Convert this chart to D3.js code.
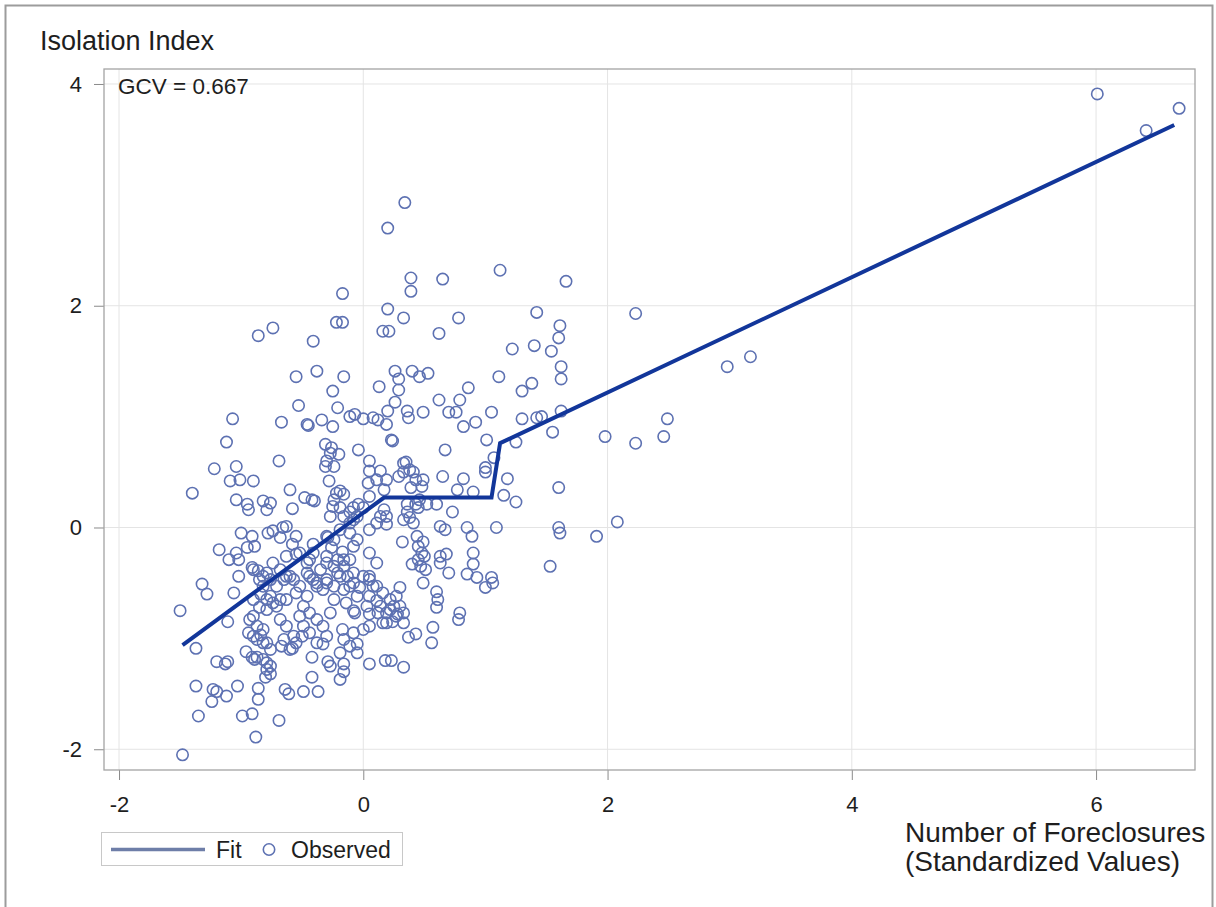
<!DOCTYPE html>
<html>
<head>
<meta charset="utf-8">
<script src="https://cdn.jsdelivr.net/npm/d3@7"></script>
<style>
  html, body { margin: 0; padding: 0; background: #fff; }
  svg { display: block; font-family: "Liberation Sans", Arial, Helvetica, sans-serif; }
</style>
</head>
<body>
<svg id="chart" width="1216" height="907"></svg>
<script>
// Axis tick values
const xTicks = [-2, 0, 2, 4, 6];
const yTicks = [-2, 0, 2, 4];

// Fitted piecewise-linear curve (standardized foreclosures -> isolation index)
const fitX = [-1.48, 0.17, 1.05, 1.12, 6.64];
const fitY = [-1.06, 0.27, 0.27, 0.76, 3.63];

const gcvValue = 0.667;

// Observed tracts: [standardized foreclosures, isolation index]
const observed = [
  [6.01, 3.91], [6.68, 3.78], [6.41, 3.58], [0.34, 2.93], [0.20, 2.70], [1.12, 2.32], [0.39, 2.25], [0.39, 2.13],
  [0.65, 2.24], [1.66, 2.22], [-0.17, 2.11], [0.20, 1.97], [2.23, 1.93], [1.42, 1.94], [1.61, 1.82], [1.60, 1.71],
  [-0.74, 1.80], [-0.86, 1.73], [-0.22, 1.85], [-0.17, 1.85], [0.33, 1.89], [0.78, 1.89], [0.16, 1.77], [0.21, 1.77],
  [0.62, 1.75], [-0.41, 1.68], [1.22, 1.61], [1.40, 1.64], [1.54, 1.59], [1.62, 1.45], [1.62, 1.34], [1.11, 1.36],
  [2.98, 1.45], [3.17, 1.54], [-0.55, 1.36], [-0.38, 1.41], [-0.16, 1.36], [-0.25, 1.23], [0.13, 1.27], [-0.53, 1.10],
  [-0.21, 1.08], [-1.07, 0.98], [-0.67, 0.95], [-0.45, 0.92], [-0.34, 0.97], [-0.11, 1.00], [-0.07, 1.02], [0.00, 0.98],
  [0.08, 0.99], [0.12, 0.97], [0.19, 0.93], [0.26, 1.41], [0.29, 1.34], [0.29, 1.24], [0.26, 1.13], [0.20, 1.05],
  [0.40, 1.41], [0.46, 1.36], [0.53, 1.39], [0.86, 1.26], [0.62, 1.15], [0.79, 1.15], [1.30, 1.23], [1.38, 1.30],
  [0.36, 1.05], [0.37, 0.99], [0.49, 1.04], [0.70, 1.04], [0.76, 1.04], [1.05, 1.04], [1.30, 0.98], [1.42, 0.99],
  [1.46, 1.00], [1.62, 1.05], [0.92, 0.95], [0.82, 0.91], [-0.46, 0.93], [-0.25, 0.91], [1.55, 0.86], [2.49, 0.98],
  [2.46, 0.82], [1.98, 0.82], [2.23, 0.76], [1.01, 0.79], [1.25, 0.77],
  [-1.12, 0.77], [-0.69, 0.60], [-1.22, 0.53], [-1.04, 0.55], [-1.09, 0.42], [-1.01, 0.43], [-0.90, 0.42], [-1.40, 0.31],
  [-0.60, 0.34], [-1.04, 0.25], [-0.95, 0.21], [-0.94, 0.16], [-0.82, 0.24], [-0.76, 0.22], [-0.79, 0.16], [-0.58, 0.17],
  [-0.48, 0.27], [-0.42, 0.25], [-0.40, 0.24], [-0.31, 0.75], [-0.26, 0.72], [-0.27, 0.67], [-0.20, 0.66], [-0.31, 0.55],
  [-0.24, 0.55], [-0.30, 0.60], [-0.28, 0.42], [-0.04, 0.70], [0.05, 0.60], [0.05, 0.51], [0.14, 0.51], [0.04, 0.40],
  [0.19, 0.43], [0.17, 0.34], [0.23, 0.79], [-0.19, 0.33], [-0.16, 0.30], [-0.24, 0.25], [-0.04, 0.21], [-0.08, 0.18],
  [0.00, 0.18], [-0.19, 0.18], [-0.27, 0.10], [-0.16, 0.10], [-0.08, 0.07], [0.05, -0.02], [0.17, 0.16], [0.19, 0.10],
  [0.14, 0.10], [0.11, 0.04], [0.19, 0.03], [-1.00, -0.05], [-0.91, -0.08], [-0.89, -0.17], [-0.95, -0.18], [-0.78, -0.05],
  [-0.74, -0.03], [-0.66, 0.00], [-0.63, 0.01], [-0.68, -0.09], [-1.18, -0.20], [-1.10, -0.29], [-1.04, -0.23], [-1.02, -0.44],
  [-1.06, -0.59], [-1.32, -0.51], [-1.28, -0.60], [-1.50, -0.75], [-0.90, -0.38], [-0.85, -0.47], [-0.79, -0.41], [-0.74, -0.32],
  [-0.58, -0.15], [-0.52, -0.23], [-0.46, -0.32], [-0.63, -0.26], [-0.55, -0.08], [-0.41, -0.15], [-0.30, -0.08], [-0.24, -0.11],
  [-0.19, -0.02], [-0.11, -0.05], [-0.05, -0.11], [-0.08, -0.17], [0.11, -0.32], [0.05, -0.44], [0.08, -0.53], [-0.03, -0.54],
  [-0.08, -0.50], [-0.30, -0.26], [-0.24, -0.35], [-0.16, -0.29], [-0.19, -0.44], [-0.30, -0.50], [-0.38, -0.53], [-0.63, -0.44],
  [-0.57, -0.47], [-0.52, -0.53], [-0.46, -0.41], [-0.41, -0.47], [-0.55, -0.59], [-0.46, -0.62], [-0.63, -0.65], [-0.71, -0.71],
  [-0.79, -0.65], [-0.85, -0.72], [-0.90, -0.80], [-0.24, -0.65], [-0.14, -0.68], [-0.27, -0.77], [-0.08, -0.75], [0.03, -0.71],
  [0.11, -0.66], [0.19, -0.77], [0.25, -0.71], [0.27, -0.62],
  [0.24, 0.78], [0.67, 0.70], [0.35, 0.59], [0.29, 0.46], [0.33, 0.50], [0.41, 0.50], [0.43, 0.43], [0.65, 0.46],
  [0.82, 0.44], [1.00, 0.54], [1.00, 0.50], [1.07, 0.63], [1.18, 0.44], [0.39, 0.36], [0.48, 0.37], [0.77, 0.34],
  [0.90, 0.32], [1.15, 0.29], [1.25, 0.23], [1.60, 0.36], [0.36, 0.21], [0.43, 0.21], [0.45, 0.18], [0.38, 0.09],
  [0.36, 0.14], [0.52, 0.21], [0.60, 0.21], [0.73, 0.14], [-0.11, 0.14], [0.63, 0.01], [0.67, -0.02], [0.85, 0.00],
  [0.89, -0.08], [1.09, 0.00], [1.60, 0.00], [1.61, -0.05], [1.91, -0.08], [2.08, 0.05], [-0.29, -0.09], [-0.17, -0.22],
  [-0.26, -0.18], [0.32, -0.13], [0.44, -0.08], [0.49, -0.13], [0.45, -0.17], [0.90, -0.23], [0.90, -0.33], [1.53, -0.35],
  [0.40, -0.33], [0.45, -0.29], [0.50, -0.26], [0.48, -0.23], [0.47, -0.35], [0.51, -0.38], [0.63, -0.26], [0.68, -0.24],
  [0.63, -0.32], [0.70, -0.41], [0.85, -0.42], [0.93, -0.45], [1.05, -0.45], [1.06, -0.50], [1.00, -0.54], [0.30, -0.54],
  [0.49, -0.50], [0.60, -0.58], [0.61, -0.65], [0.60, -0.72], [0.79, -0.77], [0.78, -0.83], [0.28, -0.78], [0.24, -0.85],
  [0.16, -0.86], [0.12, -0.77], [0.05, -0.78], [-0.07, -0.77], [-0.08, -0.95], [-0.05, -1.05], [-0.17, -0.92], [0.57, -0.90],
  [0.56, -1.04], [0.37, -0.99], [0.43, -0.96], [-0.33, -1.05], [-0.42, -1.17], [-0.29, -1.21], [-0.27, -1.25], [-0.16, -1.23],
  [-0.16, -1.30], [-0.19, -1.37], [0.05, -1.23], [0.18, -1.20], [0.23, -1.20], [0.33, -1.26], [-0.42, -1.35], [-0.49, -1.48],
  [-0.37, -1.48],
  [-1.37, -1.09], [-1.11, -0.85], [-1.20, -1.21], [-1.13, -1.23], [-1.11, -1.21], [-1.37, -1.43], [-1.23, -1.46], [-1.20, -1.48],
  [-1.24, -1.57], [-1.12, -1.52], [-1.03, -1.43], [-1.35, -1.70], [-0.99, -1.70], [-0.91, -1.68], [-0.86, -1.45], [-0.86, -1.55],
  [-0.88, -1.89], [-0.69, -1.74], [-0.64, -1.46], [-0.61, -1.50], [-1.48, -2.05], [-0.94, -0.95], [-0.87, -1.01], [-0.82, -1.04],
  [-0.87, -1.17], [-0.79, -1.22], [-0.79, -1.28], [-0.76, -1.32], [-0.91, -1.17], [-0.89, -1.19], [-0.67, -1.07], [-0.58, -1.09],
  [-0.50, -0.98], [-0.49, -0.89],
  [-1.02, -0.29], [-0.91, -0.36], [-0.86, -0.39], [-0.76, -0.47], [-0.82, -0.53], [-0.71, -0.53], [-0.65, -0.47], [-0.60, -0.44],
  [-0.68, -0.38], [-0.82, -0.44], [-0.90, -0.65], [-0.84, -0.60], [-0.79, -0.74], [-0.74, -0.68], [-0.68, -0.65], [-0.76, -0.62],
  [-0.93, -0.83], [-0.87, -0.89], [-0.82, -0.92], [-0.90, -0.98], [-0.84, -0.97], [-0.79, -1.04], [-0.76, -1.10], [-0.96, -1.12],
  [-0.82, -1.19], [-0.76, -1.25], [-0.80, -1.35], [-0.68, -0.83], [-0.63, -0.89], [-0.57, -0.98], [-0.65, -1.01], [-0.55, -1.04],
  [-0.60, -1.10], [-0.49, -0.71], [-0.44, -0.77], [-0.38, -0.83], [-0.52, -0.80], [-0.44, -0.95], [-0.33, -0.89], [-0.30, -0.98],
  [-0.38, -1.04], [-0.44, -0.44], [-0.38, -0.50], [-0.30, -0.47], [-0.33, -0.56], [-0.24, -0.53], [-0.21, -0.41], [-0.13, -0.44],
  [-0.08, -0.41], [-0.16, -0.56], [-0.11, -0.53], [-0.05, -0.62], [0.00, -0.44], [0.05, -0.47], [0.11, -0.53], [0.16, -0.59],
  [0.22, -0.65], [0.05, -0.62], [0.14, -0.71], [0.22, -0.74], [0.27, -0.80], [0.33, -0.77], [0.30, -0.71], [0.33, -0.86],
  [0.19, -0.86], [0.05, -0.23], [-0.16, -0.35], [-0.11, -0.29], [-0.21, -0.29], [-0.35, -0.38], [-0.30, -0.32], [-0.44, -0.29],
  [-0.41, -0.23], [-0.55, -0.24], [-0.22, 0.31], [-0.25, 0.19], [-0.11, 0.04], [-0.05, 0.10], [0.05, 0.28], [0.11, 0.43],
  [0.33, 0.58], [0.38, 0.52], [0.49, 0.43], [0.46, 0.25], [0.33, 0.07], [0.41, 0.04], [-0.16, -1.01], [-0.11, -1.07],
  [-0.05, -1.13], [-0.19, -1.13], [0.00, -0.92], [0.05, -0.89]
];

const svg = d3.select("#chart");
const W = 1216, H = 907;
const plot = { left: 104, right: 1195, top: 69, bottom: 770 };

const textColor = "#1e1e1e";
const markerColor = "#5d71b2";
const fitColor = "#12369a";
const baseFont = "'Liberation Sans', Arial, sans-serif";

svg.append("rect").attr("width", W).attr("height", H).attr("fill", "#fff");

// Outer border of the graph area
svg.append("rect")
  .attr("x", 5.5).attr("y", 5.5)
  .attr("width", 1207).attr("height", 1000)
  .attr("fill", "none").attr("stroke", "#9c9c9c").attr("stroke-width", 2);

const x = d3.scaleLinear().domain([-2.123, 6.81]).range([plot.left, plot.right]);
const y = d3.scaleLinear().domain([-2.187, 4.135]).range([plot.bottom, plot.top]);

// Gridlines
const grid = svg.append("g").attr("stroke", "#e4e4e4").attr("stroke-width", 1);
grid.selectAll("line.gx").data(xTicks).join("line")
  .attr("x1", d => x(d)).attr("x2", d => x(d))
  .attr("y1", plot.top).attr("y2", plot.bottom);
grid.selectAll("line.gy").data(yTicks).join("line")
  .attr("x1", plot.left).attr("x2", plot.right)
  .attr("y1", d => y(d)).attr("y2", d => y(d));

// Axes
const xAxis = svg.append("g")
  .attr("transform", `translate(0,${plot.bottom})`)
  .call(d3.axisBottom(x).tickValues(xTicks).tickSize(10).tickPadding(16).tickFormat(d3.format("d")));
const yAxis = svg.append("g")
  .attr("transform", `translate(${plot.left},0)`)
  .call(d3.axisLeft(y).tickValues(yTicks).tickSize(10).tickPadding(12).tickFormat(d3.format("d")));

[xAxis, yAxis].forEach(g => {
  g.select(".domain").remove();
  g.selectAll(".tick line").attr("stroke", "#8a8a8a").attr("stroke-width", 1);
  g.selectAll(".tick text")
    .attr("fill", textColor)
    .style("font-size", "22px")
    .style("font-family", baseFont);
});
xAxis.selectAll(".tick text").text(d => d < 0 ? "-" + Math.abs(d) : d);
yAxis.selectAll(".tick text").text(d => d < 0 ? "-" + Math.abs(d) : d);

// Plot frame
svg.append("rect")
  .attr("x", plot.left).attr("y", plot.top)
  .attr("width", plot.right - plot.left).attr("height", plot.bottom - plot.top)
  .attr("fill", "none").attr("stroke", "#a4a4a4").attr("stroke-width", 1.3);

// Observed markers
svg.append("clipPath").attr("id", "plotClip")
  .append("rect")
  .attr("x", plot.left).attr("y", plot.top)
  .attr("width", plot.right - plot.left).attr("height", plot.bottom - plot.top);

svg.append("g").attr("clip-path", "url(#plotClip)")
  .selectAll("circle").data(observed).join("circle")
  .attr("cx", d => x(d[0])).attr("cy", d => y(d[1]))
  .attr("r", 5.7)
  .attr("fill", "none")
  .attr("stroke", markerColor)
  .attr("stroke-width", 1.6);

// Fit curve
const fitPts = fitX.map((v, i) => [v, fitY[i]]);
svg.append("path")
  .datum(fitPts)
  .attr("d", d3.line().x(d => x(d[0])).y(d => y(d[1])))
  .attr("fill", "none")
  .attr("stroke", fitColor)
  .attr("stroke-width", 4)
  .attr("stroke-linejoin", "miter");

// Titles and annotation
svg.append("text")
  .attr("x", 40).attr("y", 50)
  .attr("fill", textColor)
  .style("font-size", "27px")
  .text("Isolation Index");

svg.append("text")
  .attr("x", 118).attr("y", 94)
  .attr("fill", textColor)
  .style("font-size", "22.5px")
  .text(`GCV = ${gcvValue.toFixed(3)}`);

const xLabel = svg.append("text")
  .attr("fill", textColor)
  .style("font-size", "28px");
xLabel.append("tspan").attr("x", 905).attr("y", 842).text("Number of Foreclosures");
xLabel.append("tspan").attr("x", 905).attr("y", 871).text("(Standardized Values)");

// Legend
const legend = svg.append("g");
legend.append("rect")
  .attr("x", 101.5).attr("y", 832.5).attr("width", 301).attr("height", 33)
  .attr("fill", "none").attr("stroke", "#c8c8c8").attr("stroke-width", 1);
legend.append("line")
  .attr("x1", 111).attr("x2", 205).attr("y1", 849.5).attr("y2", 849.5)
  .attr("stroke", "#6e7ea8").attr("stroke-width", 3.5);
legend.append("text")
  .attr("x", 216).attr("y", 857.5)
  .attr("fill", textColor).style("font-size", "23px")
  .text("Fit");
legend.append("circle")
  .attr("cx", 269).attr("cy", 849.5).attr("r", 5.7)
  .attr("fill", "none").attr("stroke", markerColor).attr("stroke-width", 1.6);
legend.append("text")
  .attr("x", 291).attr("y", 857.5)
  .attr("fill", textColor).style("font-size", "23px")
  .text("Observed");
</script>
</body>
</html>
